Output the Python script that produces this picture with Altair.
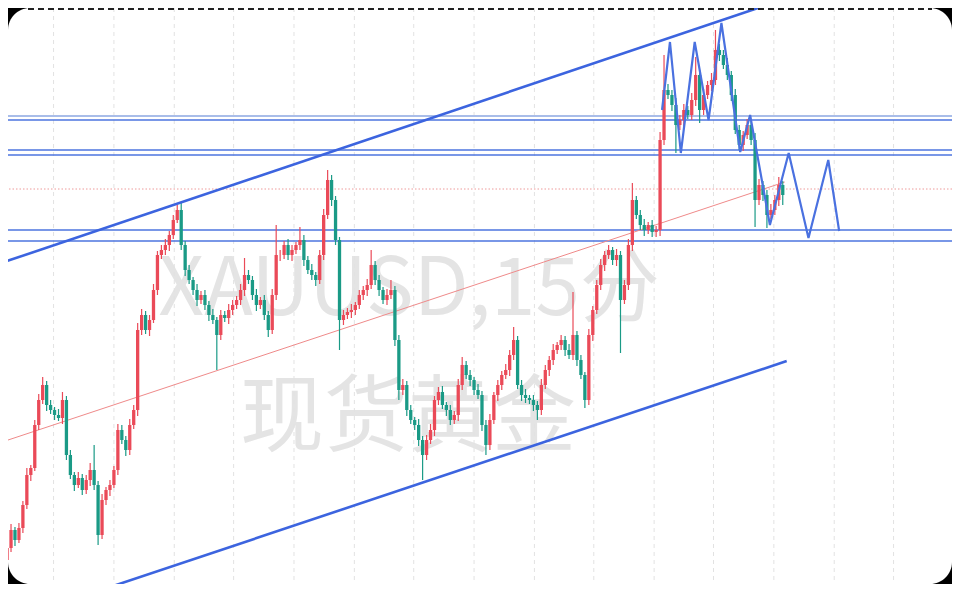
import altair as alt
import pandas as pd

# ---------------- data (price units) ----------------
first_open = 2644.0
closes = [
    2645.2, 2647.0, 2646.0, 2647.2, 2649.5, 2652.5, 2653.2, 2657.5, 2660.0, 2661.5,
    2659.5, 2659.0, 2658.5, 2658.2, 2660.0, 2654.5, 2652.5, 2651.5, 2652.2, 2651.0,
    2652.0, 2653.0, 2651.5, 2646.5, 2650.0, 2651.0, 2651.5, 2653.0, 2657.0, 2656.0,
    2655.0, 2657.5, 2659.0, 2667.0, 2668.5, 2667.0, 2668.0, 2671.0, 2674.5, 2675.0,
    2675.5, 2676.5, 2678.0, 2679.0, 2675.5, 2673.0, 2672.0, 2671.0, 2670.0, 2670.5,
    2669.5, 2668.5, 2668.0, 2666.5, 2668.5, 2668.2, 2669.0, 2669.5, 2670.0, 2671.0,
    2672.5, 2672.0, 2670.5, 2669.5, 2670.0, 2668.5, 2667.0, 2670.5, 2674.5, 2674.5,
    2675.5, 2674.5, 2675.0, 2675.5, 2676.0, 2674.0, 2673.0, 2672.5, 2672.0, 2674.5,
    2678.5, 2682.0, 2680.0, 2676.0, 2668.0, 2668.5, 2668.8, 2669.0, 2669.5, 2670.5,
    2671.0, 2671.5, 2673.5, 2672.0, 2671.0, 2670.0, 2670.5, 2671.0, 2666.0, 2661.0,
    2661.5, 2659.0, 2658.0, 2657.5, 2656.0, 2654.5, 2656.0, 2657.0, 2660.0, 2660.8,
    2659.5, 2659.0, 2658.0, 2658.5, 2661.5, 2663.5, 2662.5, 2662.0, 2661.0, 2660.5,
    2657.5, 2655.5, 2658.0, 2660.5, 2661.5, 2662.5, 2663.0, 2664.5, 2666.0, 2661.5,
    2660.5, 2660.2, 2660.0, 2659.5, 2659.0, 2661.5, 2663.0, 2664.0, 2665.0, 2665.5,
    2666.0, 2665.0, 2664.5, 2666.5, 2664.0, 2662.5, 2660.0, 2666.5, 2669.0, 2671.5,
    2673.5, 2674.5, 2675.0, 2674.0, 2674.5, 2670.0, 2671.5, 2675.5, 2680.0, 2678.5,
    2677.5, 2677.0, 2677.5, 2676.8, 2677.0, 2686.0, 2691.0, 2690.5, 2689.5, 2687.5,
    2688.0, 2689.0, 2688.5, 2690.0, 2692.5, 2689.0, 2690.5, 2691.5, 2692.0, 2695.0,
    2694.5, 2693.5, 2692.5, 2690.5, 2687.0, 2685.5, 2686.5, 2687.5, 2686.0, 2680.0,
    2681.5, 2680.5, 2678.5, 2679.0, 2680.0, 2681.5, 2680.5,
]
upper_wick = [
    0.4, 0.6, 0.3, 0.5, 0.4, 0.7, 0.3, 0.5, 0.6, 0.8,
    0.4, 0.5, 0.3, 0.6, 0.8, 0.4, 0.5, 0.3, 0.6, 0.4,
    0.5, 0.7, 2.5, 0.4, 0.6, 0.3, 0.5, 0.4, 0.6, 0.5,
    0.4, 0.6, 0.5, 0.7, 0.6, 0.4, 0.5, 0.6, 0.4, 0.5,
    0.6, 0.4, 0.5, 0.5, 0.7, 0.4, 0.5, 0.3, 0.6, 0.4,
    0.5, 0.4, 0.6, 0.3, 0.5, 0.4, 0.6, 0.5, 0.4, 0.6,
    1.7, 0.5, 0.4, 0.6, 0.3, 0.5, 0.4, 0.6, 3.0, 0.5,
    0.4, 0.6, 0.5, 0.3, 1.3, 0.5, 0.4, 0.6, 0.3, 0.5,
    0.6, 1.0, 0.5, 0.4, 0.3, 0.5, 0.4, 0.6, 0.3, 0.5,
    0.4, 0.6, 1.5, 0.4, 0.5, 0.3, 0.6, 1.0, 0.4, 0.5,
    0.6, 0.4, 0.5, 0.3, 0.6, 0.4, 0.5, 0.6, 0.4, 0.5,
    0.6, 0.3, 0.5, 0.4, 0.6, 0.8, 0.4, 0.5, 0.3, 0.6,
    0.4, 0.5, 0.6, 0.3, 0.5, 0.4, 0.6, 0.5, 1.3, 0.4,
    0.5, 0.6, 0.3, 0.5, 0.4, 0.6, 0.5, 0.4, 0.6, 0.3,
    0.5, 0.4, 0.6, 4.3, 0.4, 0.5, 0.3, 0.6, 0.4, 0.5,
    0.6, 0.4, 0.5, 0.3, 0.6, 0.4, 0.5, 0.6, 1.7, 0.4,
    0.5, 0.6, 0.3, 0.5, 0.4, 0.8, 3.5, 0.6, 0.5, 0.7,
    0.5, 0.6, 0.4, 0.7, 1.8, 0.5, 0.6, 0.4, 0.7, 2.0,
    0.6, 0.5, 0.7, 0.4, 0.6, 0.5, 0.4, 0.6, 0.5, 0.7,
    0.6, 0.4, 0.5, 0.6, 0.5, 0.8, 0.4,
]
lower_wick = [
    0.5, 0.4, 0.6, 0.3, 0.5, 0.4, 0.6, 0.3, 0.5, 0.4,
    0.6, 0.4, 0.5, 0.3, 0.6, 0.5, 0.4, 0.6, 0.3, 0.5,
    0.4, 0.6, 0.5, 1.0, 0.4, 0.5, 0.6, 0.3, 0.5, 0.4,
    0.6, 0.5, 0.4, 0.6, 0.5, 0.4, 0.6, 0.3, 0.5, 0.4,
    0.5, 0.6, 0.4, 0.3, 0.5, 0.6, 0.4, 0.5, 0.6, 0.4,
    0.5, 0.6, 0.4, 3.5, 0.5, 0.4, 0.6, 0.5, 0.4, 0.5,
    0.6, 0.4, 0.5, 0.6, 0.4, 0.5, 0.7, 0.4, 0.5, 0.6,
    0.4, 0.5, 0.6, 0.4, 0.5, 0.6, 0.4, 0.5, 0.6, 0.4,
    0.5, 0.4, 0.6, 0.5, 3.0, 0.5, 0.4, 0.6, 0.5, 0.4,
    0.5, 0.6, 0.4, 0.5, 0.6, 0.4, 0.5, 0.4, 0.6, 1.0,
    0.5, 0.6, 0.4, 0.5, 0.6, 2.5, 0.5, 0.4, 0.6, 0.5,
    0.4, 0.6, 0.5, 0.4, 0.6, 0.5, 0.4, 0.6, 0.5, 0.4,
    0.6, 1.0, 0.5, 0.4, 0.6, 0.5, 0.4, 0.6, 0.5, 0.4,
    0.6, 0.5, 0.4, 0.6, 1.0, 0.5, 0.4, 0.6, 0.5, 0.4,
    0.5, 0.6, 0.4, 0.5, 0.6, 0.4, 0.8, 0.5, 0.6, 0.4,
    0.5, 0.6, 0.4, 0.5, 0.6, 5.3, 0.4, 0.5, 0.6, 0.4,
    0.5, 0.6, 0.4, 0.5, 0.5, 0.6, 0.5, 0.4, 0.6, 2.8,
    0.5, 0.6, 0.4, 0.5, 0.6, 1.3, 0.5, 0.4, 0.6, 0.5,
    0.6, 0.4, 0.5, 0.6, 0.4, 0.5, 0.6, 0.4, 0.5, 2.7,
    0.5, 0.6, 1.3, 0.4, 0.5, 0.6, 1.0,
]

# horizontal price levels
level_light = [2688.4]
levels_blue = [2688.0, 2685.0, 2684.5, 2677.0, 2675.9]
level_dotted = [2681.1]

# drawn trend lines (bar index, price)
upper_line_i = [-0.5, 196.5]
upper_line_p = [2673.83, 2700.1]
lower_line_i = [21.5, 197.0]
lower_line_p = [2640.7, 2663.9]
mid_line_i = [-0.5, 196.5]
mid_line_p = [2655.9, 2681.8]

# projected zig-zag path
zig_i = [165.5, 167.5, 170.25, 173.75, 177.25, 180.5, 185.25, 187.75, 192.75, 197.5, 202.5, 207.5, 210.25]
zig_p = [2689.0, 2695.8, 2684.7, 2695.8, 2688.0, 2697.7, 2684.8, 2688.5, 2677.5, 2684.7, 2676.2, 2684.0, 2676.9]

# time grid positions (bar index)
grid_i = [11.75, 27, 42.25, 57.25, 72.5, 87.75, 102.75, 118, 133.25, 148.25, 163.5, 178.5, 193.75, 209, 224]

watermark_1 = "XAUUSD,15分"
watermark_2 = "现货黄金"

# ---------------- build tables ----------------
opens = [first_open] + closes[:-1]
candles = pd.DataFrame({
    "i": list(range(len(closes))),
    "open": opens,
    "close": closes,
    "high": [max(o, c) + w for o, c, w in zip(opens, closes, upper_wick)],
    "low": [min(o, c) - w for o, c, w in zip(opens, closes, lower_wick)],
})

W, H = 944, 576
xs = alt.Scale(domain=[1.5, 237.5], nice=False, zero=False)
ys = alt.Scale(domain=[2641.6, 2699.2], nice=False, zero=False)


def X(f):
    return alt.X(f, type="quantitative", scale=xs, axis=None)


def Y(f):
    return alt.Y(f, type="quantitative", scale=ys, axis=None)


one = alt.Data(values=[{}])

bg = alt.Chart(one).mark_rect(color="white", cornerRadius=22).encode(
    x=alt.value(0), x2=alt.value(W), y=alt.value(0), y2=alt.value(H)
)

wm1 = alt.Chart(one).mark_text(
    text=watermark_1, font="Noto Sans CJK SC", fontSize=80, color="#e4e4e4",
    align="center", baseline="alphabetic"
).encode(x=alt.value(401), y=alt.value(307))
wm2 = alt.Chart(one).mark_text(
    text=watermark_2, font="Noto Sans CJK SC", fontSize=84, color="#e4e4e4",
    align="center", baseline="alphabetic"
).encode(x=alt.value(400), y=alt.value(437))

grid = alt.Chart(pd.DataFrame({"i": grid_i})).mark_rule(
    color="#e2e2e2", strokeWidth=1, strokeDash=[4, 4]
).encode(x=X("i"))

hl_light = alt.Chart(pd.DataFrame({"p": level_light})).mark_rule(
    color="#a9bde9", strokeWidth=2
).encode(y=Y("p"))
hl_blue = alt.Chart(pd.DataFrame({"p": levels_blue})).mark_rule(
    color="#4d74df", strokeWidth=1.3
).encode(y=Y("p"))
hl_dot = alt.Chart(pd.DataFrame({"p": level_dotted})).mark_rule(
    color="#ee9a9a", strokeWidth=1, strokeDash=[1.5, 2]
).encode(y=Y("p"))

mid_line = alt.Chart(pd.DataFrame({"i": mid_line_i, "p": mid_line_p})).mark_line(
    color="#ef8a8a", strokeWidth=1, clip=True
).encode(x=X("i"), y=Y("p"))

col = alt.condition("datum.close >= datum.open", alt.value("#ea4a58"), alt.value("#1a9a86"))
wicks = alt.Chart(candles).mark_rule(strokeWidth=1.2, clip=True).encode(
    x=X("i"), y=Y("low"), y2="high", color=col
)
bodies = alt.Chart(candles).mark_bar(size=3.3, clip=True).encode(
    x=X("i"), y=Y("open"), y2="close", color=col
)

upper_line = alt.Chart(pd.DataFrame({"i": upper_line_i, "p": upper_line_p})).mark_line(
    color="#3c64df", strokeWidth=2.6, clip=True
).encode(x=X("i"), y=Y("p"))
lower_line = alt.Chart(pd.DataFrame({"i": lower_line_i, "p": lower_line_p})).mark_line(
    color="#3c64df", strokeWidth=2.6, clip=True
).encode(x=X("i"), y=Y("p"))

zig = alt.Chart(pd.DataFrame({"i": zig_i, "p": zig_p, "o": list(range(len(zig_i)))})).mark_line(
    color="#4a71e0", strokeWidth=2.2, clip=True
).encode(x=X("i"), y=Y("p"), order="o:Q")

top_border = alt.Chart(one).mark_rule(color="#222222", strokeWidth=2, strokeDash=[6, 4]).encode(
    x=alt.value(20), x2=alt.value(W - 20), y=alt.value(1)
)

chart = alt.layer(
    bg, wm1, wm2, grid, hl_light, hl_blue, hl_dot, mid_line, wicks, bodies,
    upper_line, lower_line, zig, top_border
).properties(
    width=W, height=H, padding=0, autosize=alt.AutoSizeParams(type="none"),
    background="white"
).configure_view(fill="black", strokeWidth=0)

chart.save("out.html", embed_options={"renderer": "svg", "actions": False})
